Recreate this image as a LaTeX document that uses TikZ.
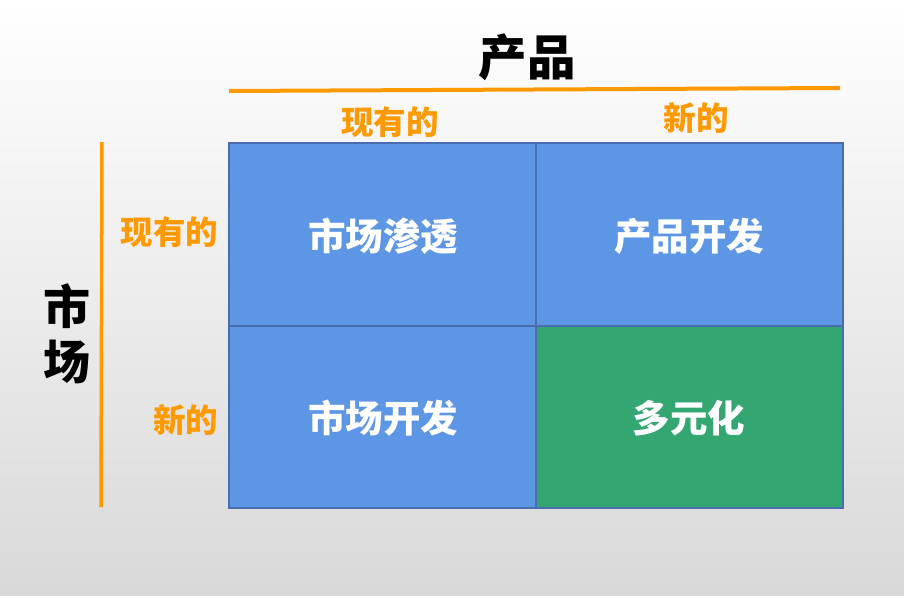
\documentclass[tikz,border=0pt]{standalone}
\usepackage{fontspec}
\newfontfamily\cjk{Noto Sans CJK SC}
\definecolor{cellblue}{HTML}{5E96E6}
\definecolor{cellgreen}{HTML}{33A672}
\definecolor{cellborder}{HTML}{4A6DB0}
\definecolor{accent}{HTML}{FF9900}
\begin{document}
\begin{tikzpicture}[x=1pt,y=-1pt,
  cell/.style={draw=cellborder,line width=1.5pt,fill=cellblue},
  celltext/.style={text=white,font=\cjk\bfseries\fontsize{37.5}{44}\selectfont},
  axislabel/.style={text=accent,font=\cjk\bfseries\fontsize{32.5}{38}\selectfont},
  title/.style={text=black,font=\cjk\bfseries\fontsize{48.5}{54}\selectfont},
  rule/.style={draw=accent,line cap=butt}]
\shade[top color=white,bottom color=gray!30] (0,0) rectangle (904,596);
\useasboundingbox (0,0) rectangle (904,596);
% cells
\path[cell] (229,143) rectangle (536,326);
\path[cell] (536,143) rectangle (843,326);
\path[cell] (229,326) rectangle (536,508);
\path[cell,fill=cellgreen] (536,326) rectangle (843,508);
\node[celltext] (c11) at (383,236) {市场渗透};
\node[celltext] (c12) at (689,236) {产品开发};
\node[celltext] (c21) at (383,418) {市场开发};
\node[celltext] (c22) at (689,418) {多元化};
% top axis
\node[title] (prod) at (527,57) {产品};
\coordinate (tl) at (229,91);
\coordinate (tr) at (840,88);
\draw[rule,line width=4pt] (tl) -- (tr);
\node[axislabel] (colA) at (390,122) {现有的};
\node[axislabel] (colB) at (696,118) {新的};
% left axis
\node[title,align=center,font=\cjk\bfseries\fontsize{47}{55}\selectfont] (mkt) at (67,334) {市\\场};
\coordinate (lt) at (102,142);
\coordinate (lb) at (101,507);
\draw[rule,line width=3.5pt] (lt) -- (lb);
\node[axislabel,anchor=east] (rowA) at (222,232) {现有的};
\node[axislabel,anchor=east] (rowB) at (222,420) {新的};
\end{tikzpicture}
\end{document}
